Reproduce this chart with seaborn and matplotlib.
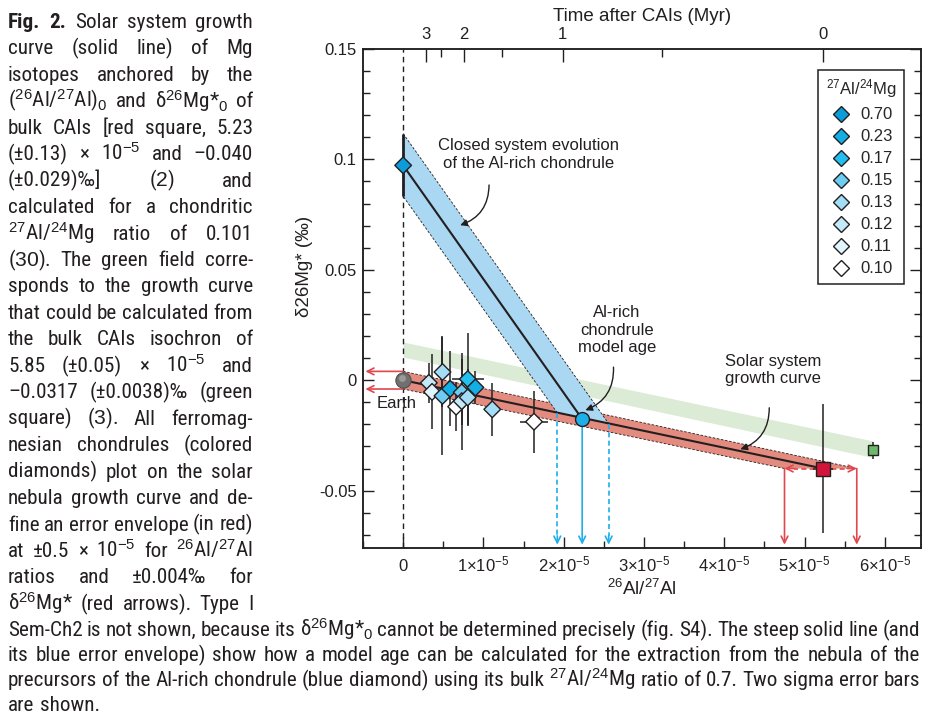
import numpy as np
import pandas as pd
import seaborn as sns
import matplotlib.pyplot as plt
from matplotlib import font_manager as fm
from matplotlib.ticker import MultipleLocator
from matplotlib.transforms import IdentityTransform

# ---- values (x = 26Al/27Al in units of 1e-5, y = d26Mg* in permil) ----
chd_x = [0.32, 0.36, 0.49, 0.49, 0.585, 0.66, 0.73, 0.73, 0.805, 0.805, 0.90, 1.11, 1.63]
chd_y = [-0.0012, -0.0053, 0.0037, -0.0071, -0.0039, -0.0120, -0.0055, -0.0095,
         0.0005, -0.0078, -0.0033, -0.0132, -0.0188]
chd_yerr = [0.009, 0.017, 0.016, 0.027, 0.017, 0.011, 0.015, 0.022, 0.021, 0.013, 0.0075, 0.012, 0.014]
chd_xerr = [0.10, 0.06, 0.08, 0.06, 0.06, 0.10, 0.06, 0.06, 0.20, 0.06, 0.08, 0.10, 0.18]
chd_ratio = ["0.12", "0.11", "0.13", "0.15", "0.23", "0.10", "0.15", "0.12",
             "0.17", "0.13", "0.23", "0.13", "0.10"]

alrich_x, alrich_y, alrich_yerr, alrich_ratio = 0.0, 0.0973, 0.014, "0.70"

ratio_levels = ["0.70", "0.23", "0.17", "0.15", "0.13", "0.12", "0.11", "0.10"]
ratio_colors = ["#0c9cd9", "#14aee6", "#22bff0", "#6ecdf3", "#a3ddf6", "#c4e9f9", "#e2f4fc", "#ffffff"]

growth_x = [0.0, 5.23]
growth_y = [0.0, -0.040]
steep_x = [0.0, 2.23]
steep_y = [0.0973, -0.0176]

red_band_x = [0.0, 5.65, 4.75, 0.0]
red_band_y = [0.004, -0.040, -0.040, -0.004]
blue_band_x = [0.0, 2.56, 1.92, 0.0]
blue_band_y = [0.1117, -0.0197, -0.0148, 0.0833]
green_band_x = [0.0, 5.85]
green_band_lo = [0.0105, -0.0350]
green_band_hi = [0.0173, -0.0275]

cai_x, cai_y, cai_xerr, cai_yerr = 5.23, -0.040, 0.13, 0.029
iso_x, iso_y, iso_yerr = 5.85, -0.0317, 0.0038
earth_x, earth_y = 0.0, 0.0
age_x, age_y = 2.23, -0.0176
age_lo, age_hi = 1.92, 2.56
env_x = [4.75, 5.65]
env_dy = 0.004

time_major = [3, 2, 1, 0]
time_minor = [2.5, 1.5, 0.5]
half_life = 0.717  # Myr
xtick_vals = [0, 1, 2, 3, 4, 5, 6]
ytick_vals = [-0.05, 0, 0.05, 0.1, 0.15]
ytick_labels = ["-0.05", "0", "0.05", "0.1", "0.15"]

CAP_LEFT = [
    "Fig. 2. Solar system growth",
    "curve (solid line) of Mg",
    "isotopes anchored by the",
    r"($^{26}$Al/$^{27}$Al)$_0$ and δ$^{26}$Mg*$_0$ of",
    "bulk CAIs [red square, 5.23",
    r"(±0.13) × 10$^{-5}$ and –0.040",
    r"(±0.029)‰] ($\mathit{2}$) and",
    "calculated for a chondritic",
    r"$^{27}$Al/$^{24}$Mg ratio of 0.101",
    r"($\mathit{30}$). The green field corre-",
    "sponds to the growth curve",
    "that could be calculated from",
    "the bulk CAIs isochron of",
    r"5.85 (±0.05) × 10$^{-5}$ and",
    "–0.0317 (±0.0038)‰ (green",
    r"square) ($\mathit{3}$). All ferromag-",
    "nesian chondrules (colored",
    "diamonds) plot on the solar",
    "nebula growth curve and de-",
    "fine an error envelope (in red)",
    r"at ±0.5 × 10$^{-5}$ for $^{26}$Al/$^{27}$Al",
    "ratios and ±0.004‰ for",
    r"δ$^{26}$Mg* (red arrows). Type I",
]
CAP_BOTTOM = [
    r"Sem-Ch2 is not shown, because its δ$^{26}$Mg*$_0$ cannot be determined precisely (fig. S4). The steep solid line (and",
    "its blue error envelope) show how a model age can be calculated for the extraction from the nebula of the",
    r"precursors of the Al-rich chondrule (blue diamond) using its bulk $^{27}$Al/$^{24}$Mg ratio of 0.7. Two sigma error bars",
    "are shown.",
]

INK = "#231f20"
RED = "#e0474f"
CYAN = "#1eaee8"


def has_font(name):
    try:
        fm.findfont(fm.FontProperties(family=name), fallback_to_default=False)
        return True
    except Exception:
        return False


sns.set_theme(style="ticks")
CHART_FONT = "Liberation Sans"
CAP_FONT = next((f for f in ["Liberation Sans Narrow", "Roboto Condensed", "DejaVu Sans Condensed"]
                 if has_font(f)), "Liberation Sans")
plt.rcParams["font.family"] = [CHART_FONT, "DejaVu Sans"]
plt.rcParams.update({
    "mathtext.fontset": "custom",
    "mathtext.rm": CHART_FONT,
    "mathtext.it": CHART_FONT + ":italic",
    "mathtext.bf": CHART_FONT + ":bold",
    "axes.unicode_minus": False,
    "axes.linewidth": 1.1,
    "axes.edgecolor": INK,
})

fig = plt.figure(figsize=(9.28, 7.2), dpi=100)
ax = fig.add_axes([363 / 928, 172 / 720, 558 / 928, 499 / 720])

# bands
ax.fill_between(green_band_x, green_band_lo, green_band_hi, color="#dcebd6", lw=0, zorder=1)
ax.fill(red_band_x, red_band_y, color="#e38b7e", lw=0, zorder=2)
ax.plot(red_band_x[:2], red_band_y[:2], color=INK, lw=0.6, ls=(0, (3, 2)), zorder=2.5)
ax.plot(red_band_x[2:], red_band_y[2:], color=INK, lw=0.6, ls=(0, (3, 2)), zorder=2.5)
ax.fill(blue_band_x, blue_band_y, color="#aad7f1", lw=0, zorder=2.6)
ax.plot(blue_band_x[:2], blue_band_y[:2], color=INK, lw=0.6, ls=(0, (3, 2)), zorder=2.7)
ax.plot(blue_band_x[2:], blue_band_y[2:], color=INK, lw=0.6, ls=(0, (3, 2)), zorder=2.7)

# x = 0 reference line
ax.axvline(0, color=INK, lw=1, ls=(0, (4, 3)), zorder=2.8)

# growth curve and closed system evolution line
sns.lineplot(x=growth_x, y=growth_y, color=INK, lw=1.5, ax=ax, zorder=3)
sns.lineplot(x=steep_x, y=steep_y, color=INK, lw=1.5, ax=ax, zorder=3)


def arrow(x0, y0, x1, y1, color, dashed=False):
    if dashed:
        fx = x1 - 0.12 * np.sign(x1 - x0) if x1 != x0 else x1
        fy = y1 - 0.004 * np.sign(y1 - y0) if y1 != y0 else y1
        ax.plot([x0, fx], [y0, fy], color=color, lw=1.2, ls=(0, (3, 2)), zorder=3)
        x0, y0 = fx, fy
    ax.annotate("", xy=(x1, y1), xytext=(x0, y0),
                arrowprops=dict(arrowstyle="->", color=color, lw=1.2, shrinkA=0, shrinkB=0,
                                mutation_scale=12), zorder=3)


bottom = -0.0745
arrow(age_lo, blue_band_y[2], age_lo, bottom, CYAN, dashed=True)
arrow(age_hi, blue_band_y[1], age_hi, bottom, CYAN, dashed=True)
arrow(age_x, age_y, age_x, bottom, CYAN)
for ex in env_x:
    arrow(ex, cai_y, ex, bottom, RED)
    arrow(cai_x, cai_y, ex, cai_y, RED, dashed=True)
for dy in (env_dy, -env_dy):
    arrow(0, dy, -0.47, dy, RED)

# error bars
ax.errorbar(chd_x, chd_y, yerr=chd_yerr, xerr=chd_xerr, fmt="none", ecolor=INK,
            elinewidth=1.1, capsize=0, zorder=4)
ax.errorbar([alrich_x], [alrich_y], yerr=[alrich_yerr], fmt="none", ecolor=INK,
            elinewidth=2, capsize=0, zorder=4)
ax.errorbar([cai_x], [cai_y], yerr=[cai_yerr], xerr=[cai_xerr], fmt="none", ecolor=INK,
            elinewidth=1.1, capsize=0, zorder=4)
ax.errorbar([iso_x], [iso_y], yerr=[iso_yerr], fmt="none", ecolor=INK,
            elinewidth=1.1, capsize=0, zorder=4)

# point markers
df = pd.DataFrame({"x": chd_x + [alrich_x], "y": chd_y + [alrich_y],
                   "ratio": chd_ratio + [alrich_ratio]})
palette = dict(zip(ratio_levels, ratio_colors))
sns.scatterplot(data=df, x="x", y="y", hue="ratio", hue_order=ratio_levels, palette=palette,
                marker="D", s=72, edgecolor=INK, linewidth=1.0, ax=ax, zorder=6)
ax.plot([cai_x], [cai_y], marker="s", ms=9.5, mfc="#d2143a", mec=INK, mew=1, zorder=6)
ax.plot([iso_x], [iso_y], marker="s", ms=6.5, mfc="#6cb96b", mec=INK, mew=1, zorder=6)
ax.plot([age_x], [age_y], marker="o", ms=10, mfc=CYAN, mec=INK, mew=1, zorder=6)
ax.plot([earth_x], [earth_y], marker="o", ms=11, mfc="#707070", mec="#505050", mew=0.8, zorder=6)
ax.plot([earth_x - 0.02], [earth_y + 0.0008], marker="o", ms=5, mfc="#9a9a9a", mew=0, zorder=6)

# annotations
ax.text(1.556, 0.1024, "Closed system evolution\nof the Al-rich chondrule", ha="center",
        va="center", fontsize=12, color=INK, linespacing=1.25)
ax.annotate("", xy=(0.71, 0.0702), xytext=(1.07, 0.0884),
            arrowprops=dict(arrowstyle="-|>", color=INK, lw=1, connectionstyle="arc3,rad=-0.35",
                            mutation_scale=10, shrinkA=0, shrinkB=0))
ax.text(2.66, 0.0227, "Al-rich\nchondrule\nmodel age", ha="center", va="center", fontsize=12,
        color=INK, linespacing=1.2)
ax.annotate("", xy=(2.27, -0.0136), xytext=(2.62, 0.0059),
            arrowprops=dict(arrowstyle="-|>", color=INK, lw=1, connectionstyle="arc3,rad=-0.35",
                            mutation_scale=10, shrinkA=0, shrinkB=0))
ax.text(4.61, 0.0045, "Solar system\ngrowth curve", ha="center", va="center", fontsize=12,
        color=INK, linespacing=1.2)
ax.annotate("", xy=(4.20, -0.0313), xytext=(4.56, -0.0125),
            arrowprops=dict(arrowstyle="-|>", color=INK, lw=1, connectionstyle="arc3,rad=-0.35",
                            mutation_scale=10, shrinkA=0, shrinkB=0))
ax.text(-0.075, -0.0104, "Earth", ha="center", va="center", fontsize=12, color=INK)

# legend
handles, labels = ax.get_legend_handles_labels()
for h in handles:
    try:
        h.set_markeredgecolor(INK)
        h.set_markeredgewidth(1.0)
    except AttributeError:
        pass
leg = ax.legend(handles, labels, title=r"$^{27}$Al/$^{24}$Mg", loc="upper right",
                bbox_to_anchor=(0.9695, 0.958), frameon=True, fancybox=False, framealpha=1,
                edgecolor=INK, fontsize=12, title_fontsize=12, labelspacing=0.42,
                handletextpad=0.5, borderpad=0.45, borderaxespad=0, handlelength=1.4)
leg.get_frame().set_linewidth(1.1)
leg.set_zorder(10)

# axes, ticks, labels
ax.set_xlim(-0.5, 6.45)
ax.set_ylim(-0.076, 0.15)
ax.set_xticks(xtick_vals)
ax.set_xticklabels(["0"] + [f"{v}×10$^{{-5}}$" for v in xtick_vals[1:]])
ax.xaxis.set_minor_locator(MultipleLocator(0.5))
ax.set_yticks(ytick_vals)
ax.set_yticklabels(ytick_labels)
ax.yaxis.set_minor_locator(MultipleLocator(0.01))
ax.tick_params(which="both", direction="in", top=False, right=True, colors=INK,
               labelsize=12, width=1)
ax.tick_params(which="major", length=8)
ax.tick_params(which="minor", length=5)
ax.tick_params(axis="x", pad=16.5)
ax.tick_params(axis="y", pad=4.5)
for lbl in ax.get_xticklabels():
    lbl.set_va("baseline")
ax.set_xlabel(r"$^{26}$Al/$^{27}$Al", fontsize=13.5, color=INK)
ax.xaxis.set_label_coords(0.5, -0.062)
ax.set_ylabel("δ26Mg* (‰)", fontsize=13.5, color=INK)
ax.yaxis.set_label_coords(-0.0896, 0.564)

lam = np.log(2) / half_life
ax_top = ax.twiny()
ax_top.set_xlim(ax.get_xlim())
ax_top.set_xticks([cai_x * np.exp(-lam * t) for t in time_major])
ax_top.set_xticklabels([str(t) for t in time_major])
ax_top.set_xticks([cai_x * np.exp(-lam * t) for t in time_minor], minor=True)
ax_top.tick_params(which="both", direction="in", colors=INK, labelsize=12, pad=5, width=1)
ax_top.tick_params(which="major", length=9)
ax_top.tick_params(which="minor", length=6)
ax_top.set_xlabel("Time after CAIs (Myr)", fontsize=13.5, color=INK)
ax_top.xaxis.set_label_coords(0.5, 1.056)

# caption, justified word by word
H = 720
renderer = fig.canvas.get_renderer()


def caption(lines, baselines, x0, x1, justify, size=16.0, bold_first=False):
    rows = []
    for i, line in enumerate(lines):
        row = []
        for j, w in enumerate(line.split(" ")):
            bold = bold_first and i == 0 and j < 2
            row.append(fig.text(0, 0, w, transform=IdentityTransform(), ha="left", va="baseline",
                                family=[CAP_FONT, "DejaVu Sans"], fontsize=size, color=INK,
                                weight="bold" if bold else "normal"))
        rows.append(row)

    def widths(row):
        return [t.get_window_extent(renderer).width for t in row]

    # shrink if the font is too wide for the column
    scale = 1.0
    for row in rows:
        need = sum(widths(row)) + (len(row) - 1) * 0.2 * size * 100 / 72
        scale = min(scale, (x1 - x0) / need)
    if scale < 1:
        for row in rows:
            for t in row:
                t.set_fontsize(size * scale)
    space = 0.26 * size * scale * 100 / 72
    for row, yb, just in zip(rows, baselines, justify):
        ws = widths(row)
        gap = (x1 - x0 - sum(ws)) / (len(row) - 1) if (just and len(row) > 1) else space
        x = x0
        for t, w in zip(row, ws):
            t.set_position((x, H - yb))
            x += w + gap


caption(CAP_LEFT, [28 + 26.45 * i for i in range(len(CAP_LEFT))], 8, 253,
        [True] * len(CAP_LEFT), bold_first=True)
caption(CAP_BOTTOM, [636, 661, 686, 711], 8, 920, [True, True, True, False])

fig.savefig("out.png", dpi=100)
